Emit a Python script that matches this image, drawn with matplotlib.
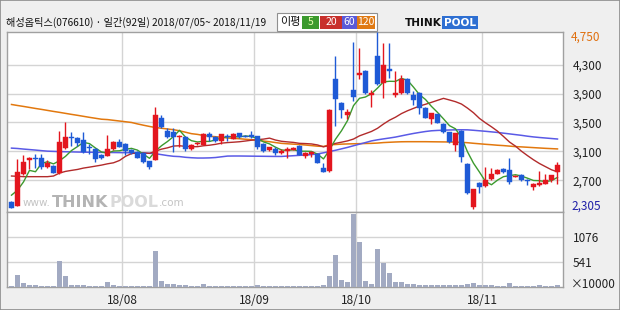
import numpy as np
import pandas as pd
import matplotlib
matplotlib.use('Agg')
import matplotlib.pyplot as plt
from matplotlib.patches import Rectangle

plt.rcParams['font.family'] = ['Noto Sans CJK KR', 'DejaVu Sans']

# ---------------- data ----------------
month_labels = ['18/08', '18/09', '18/10', '18/11']
month_start_idx = [19, 41, 58, 79]

opens = [2400, 2344, 2782, 2984, 3010, 3015, 2882, 2892, 2800, 3148,
         3303, 3285, 3258, 3163, 3134, 3056, 3042, 3134, 3234, 3203,
         3125, 3097, 3079, 2960, 2984, 3559, 3385, 3362, 3293, 3303,
         3134, 3205, 3193, 3340, 3303, 3248, 3307, 3271, 3348, 3316,
         3326, 3307, 3203, 3121, 3129, 3079, 3101, 3125, 3180, 3042,
         3066, 3066, 2874, 2827, 4107, 3773, 3604, 3956, 4162, 4217,
         3878, 4413, 4047, 4244, 3878, 3910, 4107, 3878, 3910, 3696,
         3545, 3614, 3485, 3362, 3189, 3385, 2929, 2334, 2668, 2618,
         2723, 2792, 2860, 2847, 2745, 2778, 2710, 2608, 2631, 2655,
         2700, 2814]
highs = [2410, 2997, 3056, 3020, 3066, 3066, 2974, 2910, 3385, 3512,
         3362, 3300, 3362, 3203, 3140, 3060, 3330, 3245, 3271, 3210,
         3130, 3105, 3085, 2970, 3714, 3604, 3422, 3430, 3320, 3310,
         3200, 3230, 3350, 3362, 3310, 3345, 3340, 3350, 3355, 3320,
         3376, 3310, 3210, 3160, 3166, 3134, 3156, 3160, 3185, 3088,
         3101, 3075, 2937, 3680, 4422, 3780, 3682, 4608, 4526, 4230,
         3943, 4750, 4604, 4604, 4207, 4162, 4115, 3933, 3920, 3710,
         3635, 3620, 3495, 3370, 3355, 3399, 2935, 2580, 2675, 2882,
         2874, 2860, 2865, 3006, 2770, 2785, 2715, 2660, 2827, 2792,
         2775, 2951]
lows = [2310, 2340, 2775, 2860, 2874, 2860, 2869, 2795, 2792, 3138,
        3180, 3180, 3074, 3066, 2951, 3001, 3035, 3125, 3160, 3056,
        3065, 3005, 2945, 2860, 2975, 3430, 3290, 3088, 3156, 3111,
        3125, 3195, 3185, 3248, 3225, 3203, 3238, 3265, 3285, 3295,
        3285, 3134, 3095, 3110, 3056, 3070, 3011, 3115, 3050, 3011,
        3019, 2935, 2814, 2820, 3453, 3567, 3545, 3796, 4101, 3900,
        3714, 4020, 3841, 4115, 3855, 3900, 3900, 3741, 3614, 3555,
        3485, 3490, 3350, 3215, 3101, 2951, 2510, 2305, 2526, 2610,
        2700, 2785, 2805, 2655, 2740, 2686, 2631, 2572, 2625, 2650,
        2677, 2655]
closes = [2312, 2814, 2951, 3015, 3000, 2882, 2937, 2800, 3234, 3303,
          3285, 3211, 3088, 3150, 2997, 3011, 3134, 3234, 3166, 3101,
          3074, 3011, 2951, 2882, 3604, 3444, 3303, 3293, 3316, 3134,
          3193, 3216, 3340, 3303, 3238, 3340, 3293, 3340, 3293, 3303,
          3293, 3166, 3101, 3156, 3074, 3101, 3134, 3148, 3056, 3074,
          3088, 2942, 2819, 3673, 3819, 3673, 3645, 3855, 4180, 3910,
          3901, 4033, 4289, 4217, 3901, 4107, 3910, 3810, 3696, 3567,
          3627, 3499, 3362, 3225, 3348, 3019, 2518, 2573, 2608, 2700,
          2792, 2837, 2814, 2677, 2764, 2700, 2690, 2655, 2663, 2700,
          2768, 2915]
# volume in units of 10,000 shares
volumes = [15, 255, 87, 44, 44, 15, 15, 15, 567, 233,
           44, 44, 44, 18, 18, 18, 102, 40, 18, 15,
           15, 15, 15, 15, 785, 131, 58, 58, 40, 40,
           20, 20, 58, 18, 15, 15, 15, 15, 15, 15,
           15, 40, 20, 15, 15, 15, 15, 15, 15, 15,
           20, 25, 44, 233, 691, 146, 109, 1585, 974, 131,
           58, 822, 532, 305, 109, 109, 58, 58, 44, 44,
           44, 44, 44, 40, 40, 44, 58, 80, 44, 40,
           40, 30, 30, 80, 25, 25, 25, 25, 35, 25,
           25, 40]
ma60 = [3145, 3140, 3132, 3125, 3118, 3110, 3103, 3100, 3097, 3095,
        3093, 3091, 3089, 3088, 3087, 3086, 3085, 3084, 3083, 3082,
        3080, 3078, 3076, 3074, 3068, 3055, 3042, 3032, 3028, 3018,
        3012, 3008, 3008, 3010, 3015, 3025, 3035, 3036, 3036, 3035,
        3034, 3033, 3032, 3031, 3030, 3030, 3035, 3040, 3045, 3050,
        3055, 3065, 3080, 3098, 3115, 3135, 3155, 3178, 3200, 3222,
        3245, 3260, 3273, 3285, 3298, 3315, 3332, 3348, 3362, 3375,
        3385, 3390, 3393, 3396, 3398, 3399, 3398, 3392, 3385, 3378,
        3370, 3362, 3352, 3342, 3332, 3322, 3310, 3300, 3292, 3285,
        3278, 3271]
ma120 = [3749, 3735, 3722, 3708, 3694, 3681, 3667, 3653, 3640, 3626,
         3612, 3599, 3585, 3571, 3558, 3545, 3540, 3530, 3520, 3510,
         3500, 3480, 3462, 3445, 3430, 3420, 3410, 3400, 3385, 3365,
         3345, 3335, 3320, 3310, 3303, 3295, 3285, 3280, 3275, 3268,
         3262, 3252, 3243, 3234, 3222, 3211, 3205, 3200, 3195, 3188,
         3180, 3172, 3168, 3190, 3195, 3200, 3203, 3205, 3207, 3209,
         3211, 3215, 3222, 3226, 3230, 3233, 3234, 3234, 3234, 3234,
         3233, 3232, 3231, 3230, 3228, 3225, 3220, 3212, 3205, 3198,
         3192, 3185, 3180, 3173, 3166, 3162, 3157, 3152, 3147, 3142,
         3138, 3134]
# early values of the short averages (window starts before the visible period)
ma5_head = [2494, 2563, 2677, 2837]
ma20_head = [2759, 2755, 2750, 2750, 2750, 2750, 2750, 2759, 2800, 2823,
             2837, 2850, 2869, 2882, 2896, 2910, 2928, 2942, 2974]

ma_labels = ['5', '20', '60', '120']
price_ticks = [2700, 3100, 3500, 3900, 4300]
vol_ticks = [541, 1076]

# ---------------- derived ----------------
n = len(closes)
x = np.arange(n)
cl = pd.Series(closes, dtype=float)
ma5 = cl.rolling(5).mean().to_numpy()
ma5[:len(ma5_head)] = ma5_head
ma20 = cl.rolling(20).mean().to_numpy()
ma20[:len(ma20_head)] = ma20_head

RED = '#E3161E'
BLUE = '#1E5AD6'
C5, C20, C60, C120 = '#3C9A2E', '#B22B2B', '#5A5AE6', '#E2780E'
GRID = '#D4D4D4'
FRAME = '#A0A0A0'

W, H = 620, 310
fig = plt.figure(figsize=(6.2, 3.1), dpi=100, facecolor='#EFEFEF')


def fx(px):
    return px / W


def fy(py):
    return 1 - py / H


L, R = 7, 563
TOP, MID, BOT = 32, 211.5, 287
ax = fig.add_axes([fx(L), fy(MID), (R - L) / W, (MID - TOP) / H])
axv = fig.add_axes([fx(L), fy(BOT), (R - L) / W, (BOT - MID) / H])

xl = (-0.75, 91.92)
for a in (ax, axv):
    a.set_facecolor('white')
    a.set_xlim(*xl)
    for s in a.spines.values():
        s.set_color(FRAME)
        s.set_linewidth(1)
    for m in month_start_idx:
        a.axvline(m - 0.5, color=GRID, lw=1, zorder=0)
    a.yaxis.tick_right()
    a.tick_params(axis='both', length=0, labelsize=8.5, colors='#222222', pad=7)

ax.set_ylim(2268, 4752)
ax.set_xticks([])
ax.set_yticks(price_ticks)
ax.set_yticklabels([f'{v:,}' for v in price_ticks])
for v in price_ticks:
    ax.axhline(v, color=GRID, lw=1, zorder=0)

# candles
colors = [RED if c >= o else BLUE for o, c in zip(opens, closes)]
ax.vlines(x, lows, highs, colors=colors, lw=1, zorder=3)
bottoms = np.minimum(opens, closes)
heights = np.maximum(np.abs(np.array(closes) - np.array(opens)), 12)
ax.bar(x, heights, bottom=bottoms, width=0.68, color=colors, edgecolor=colors,
       linewidth=0.3, zorder=4)

# moving averages
ax.plot(x, ma120, color=C120, lw=1.1, zorder=2)
ax.plot(x, ma60, color=C60, lw=1.1, zorder=2)
ax.plot(x, ma20, color=C20, lw=1.0, zorder=2)
ax.plot(x, ma5, color=C5, lw=1.0, zorder=2)

# watermark (pieces chained one after another)
w1 = ax.text((23 - L) / (R - L), 0.05, 'www.', transform=ax.transAxes, fontsize=7.5,
             color='#C4C4C4', va='center', ha='left', family='DejaVu Sans', zorder=1)
w2 = ax.annotate('THINK', xy=(1, 0.5), xycoords=w1, xytext=(1, 0), textcoords='offset points',
                 fontsize=11.5, color='#B4B4B4', va='center', ha='left', fontweight='bold',
                 family='DejaVu Sans', zorder=1)
w3 = ax.annotate('POOL', xy=(1, 0.5), xycoords=w2, xytext=(0.5, 0), textcoords='offset points',
                 fontsize=11.5, color='#DADADA', va='center', ha='left', fontweight='bold',
                 family='DejaVu Sans', zorder=1)
ax.annotate('.com', xy=(1, 0.5), xycoords=w3, xytext=(0.5, 0), textcoords='offset points',
            fontsize=7.5, color='#C4C4C4', va='center', ha='left', family='DejaVu Sans', zorder=1)

# max / min labels
xr = 1.0 + 8 / (R - L)
ax.text(xr, (MID - 37.5) / (MID - TOP), f'{max(highs):,}', transform=ax.transAxes,
        fontsize=8.5, color='#E07010', va='center', ha='left')
ax.text(xr, (MID - 206) / (MID - TOP), f'{min(lows):,}', transform=ax.transAxes,
        fontsize=8.5, color='#2020A8', va='center', ha='left')

# volume
axv.set_ylim(0, 1640)
axv.bar(x, volumes, width=0.68, color='#A2AAC2', zorder=3)
axv.set_yticks(vol_ticks)
axv.set_yticklabels([str(v) for v in vol_ticks])
for v in vol_ticks:
    axv.axhline(v, color=GRID, lw=1, zorder=0)
axv.set_xticks([m - 0.5 for m in month_start_idx])
axv.set_xticklabels(month_labels)
axv.tick_params(axis='x', pad=5)
axv.text(xr, 0.03, '×10000', transform=axv.transAxes, fontsize=8.5,
         color='#222222', va='center', ha='left')

# title
fig.text(fx(6), fy(22.5), '해성옵틱스(076610) · 일간(92일) 2018/07/05~ 2018/11/19',
         fontsize=7.3, color='#111111', va='center', ha='left')

# MA legend box
fig.patches.append(Rectangle((fx(277), fy(30.5)), (377 - 277) / W, (30.5 - 13) / H,
                             transform=fig.transFigure, facecolor='white',
                             edgecolor='#909090', lw=0.8))
fig.text(fx(290), fy(22), '이평', fontsize=8, va='center', ha='center', color='#111111')
boxes = [(302, 319, C5, '#E8FFB0'), (320, 342, '#C8302C', 'white'),
         (342, 357, '#5A5AD8', 'white'), (357, 375, '#E07A14', 'white')]
for (x0, x1, fc, tc), lab in zip(boxes, ma_labels):
    fig.patches.append(Rectangle((fx(x0), fy(29)), (x1 - x0) / W, (29 - 16) / H,
                                 transform=fig.transFigure, facecolor=fc, edgecolor='none'))
    fig.text(fx((x0 + x1) / 2), fy(22.3), lab, fontsize=7.5, va='center', ha='center', color=tc)

# logo
t1 = fig.text(fx(405), fy(22.5), 'THINK', fontsize=7.6, fontweight='bold', color='#111111',
              va='center', ha='left', family='DejaVu Sans')
fig.text(fx(444), fy(22.5), 'POOL', fontsize=7.6, fontweight='bold', color='white',
         va='center', ha='left', family='DejaVu Sans',
         bbox=dict(boxstyle='square,pad=0.15', facecolor='#2E6FD2', edgecolor='none'))

# outer frame
fig.patches.append(Rectangle((0.0008, 0.0016), 0.9984, 0.9968, transform=fig.transFigure,
                             facecolor='none', edgecolor='#8C8C8C', lw=1.2))

fig.savefig('out.png', dpi=100, facecolor=fig.get_facecolor())
